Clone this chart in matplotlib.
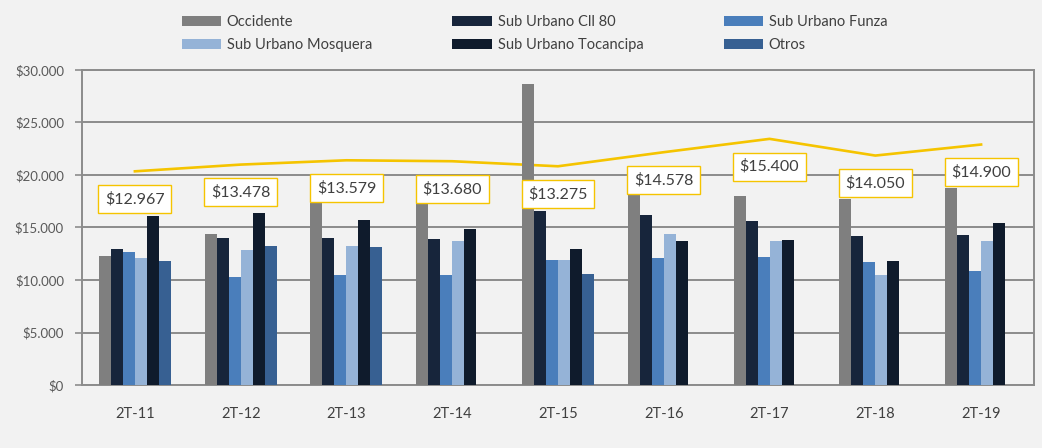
import numpy as np
import matplotlib
matplotlib.use("Agg")
import matplotlib.pyplot as plt
from matplotlib.ticker import FuncFormatter

plt.rcParams['font.family'] = ['Lato', 'DejaVu Sans']

periodos = ["2T-11", "2T-12", "2T-13", "2T-14", "2T-15", "2T-16", "2T-17", "2T-18", "2T-19"]
occidente = [12240, 14340, 17300, 17300, 28690, 18300, 17970, 17700, 18800]
cll80 = [12980, 13960, 13960, 13930, 16540, 16220, 15650, 14150, 14310]
funza = [12660, 10330, 10430, 10500, 11930, 12090, 12150, 11670, 10810]
mosquera = [12090, 12880, 13200, 13740, 11930, 14380, 13680, 10430, 13680]
tocancipa = [16060, 16380, 15680, 14850, 12950, 13680, 13840, 11830, 15430]
otros = [11830, 13200, 13140, np.nan, 10560, np.nan, np.nan, np.nan, np.nan]
linea = [20350, 20990, 21400, 21310, 20830, 22170, 23440, 21850, 22900]
etiquetas = ["$12.967", "$13.478", "$13.579", "$13.680", "$13.275",
             "$14.578", "$15.400", "$14.050", "$14.900"]

series = [
    ("Occidente", occidente, "#7f7f7f"),
    ("Sub Urbano Cll 80", cll80, "#17253b"),
    ("Sub Urbano Funza", funza, "#4a7ebb"),
    ("Sub Urbano Mosquera", mosquera, "#95b3d7"),
    ("Sub Urbano Tocancipa", tocancipa, "#0f1b2c"),
    ("Otros", otros, "#376092"),
]

bg = "#f2f2f2"
fig = plt.figure(figsize=(10.42, 4.48), dpi=100, facecolor=bg)
ax = fig.add_axes([0.0787, 0.1406, 0.9136, 0.7032])
ax.set_facecolor(bg)

x = np.arange(len(periodos))
w = 0.68 / 6
handles = {}
for i, (name, vals, col) in enumerate(series):
    b = ax.bar(x + (i - 2.5) * w, vals, w, color=col, label=name, zorder=3)
    handles[name] = b

ax.plot(x, linea, color="#f5c400", lw=1.9, zorder=2)
for xi, yi, t in zip(x, linea, etiquetas):
    ax.annotate(t, (xi, yi), xytext=(0, -20), textcoords="offset points",
                ha="center", va="center", fontsize=11.5, color="#404040", zorder=5,
                bbox=dict(boxstyle="square,pad=0.42", fc="white", ec="#f5c400", lw=1))

ax.set_xlim(-0.5, len(periodos) - 0.5)
ax.set_ylim(0, 30000)
ax.set_yticks(np.arange(0, 30001, 5000))
ax.yaxis.set_major_formatter(FuncFormatter(lambda v, p: "$" + f"{v:,.0f}".replace(",", ".")))
ax.set_xticks(x)
ax.set_xticklabels(periodos)
ax.grid(axis="y", color="#8c8c8c", lw=1.4, zorder=1)
ax.tick_params(axis="x", length=0, pad=16, labelsize=10.5, labelcolor="#404040")
ax.tick_params(axis="y", length=5, width=1.2, color="#8c8c8c", labelsize=9.5, labelcolor="#595959", pad=8)
for s in ax.spines.values():
    s.set_color("#8c8c8c")
    s.set_linewidth(1.4)

order = ["Occidente", "Sub Urbano Mosquera", "Sub Urbano Cll 80",
         "Sub Urbano Tocancipa", "Sub Urbano Funza", "Otros"]
fig.legend([handles[n] for n in order], order, ncol=3, loc="center",
           bbox_to_anchor=(0.513, 0.925), frameon=False, fontsize=10.5,
           handlelength=2.7, handleheight=0.7, handletextpad=0.4,
           columnspacing=5.5, labelspacing=0.6, labelcolor="#404040")

fig.savefig("out.png", dpi=100, facecolor=bg)
